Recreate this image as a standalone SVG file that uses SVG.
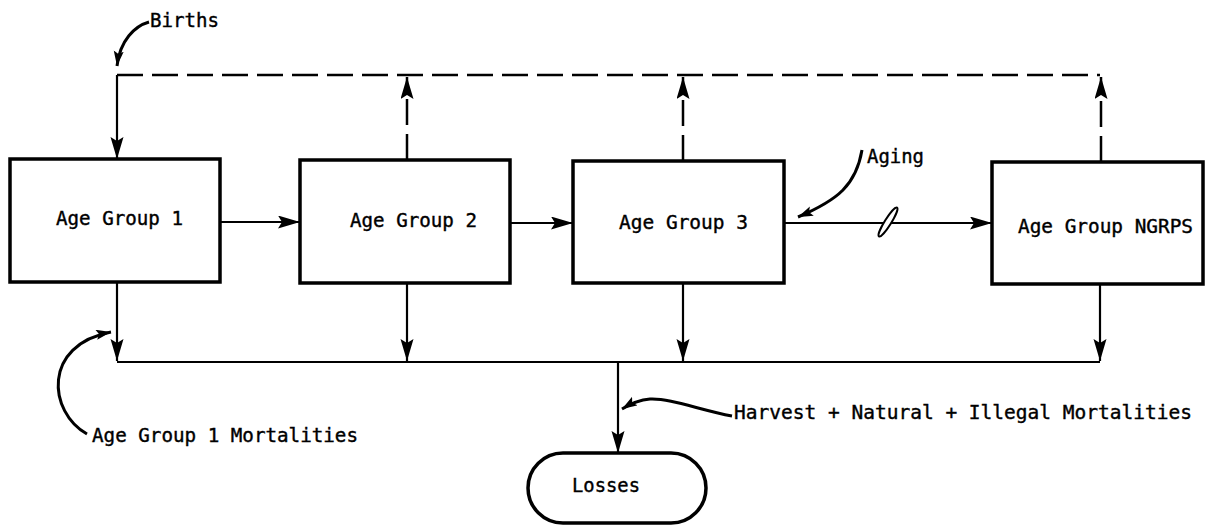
<svg xmlns="http://www.w3.org/2000/svg" width="1206" height="525" viewBox="0 0 1206 525">
<style>
.box{fill:#fff;stroke:#000;stroke-width:3.5}
.ln{fill:none;stroke:#000;stroke-width:2.2}
.dash{fill:none;stroke:#000;stroke-width:2.5;stroke-dasharray:26 9}
.curve{fill:none;stroke:#000;stroke-width:3}
text{font-family:"DejaVu Sans Mono","Liberation Mono",monospace;font-size:19.5px;fill:#000;stroke:#000;stroke-width:0.4}
</style>
<defs>
<marker id="ah" markerUnits="userSpaceOnUse" markerWidth="24" markerHeight="14" refX="22" refY="6.5" orient="auto">
<path d="M0,0 L22,6.5 L0,13 L4,6.5 z" fill="#000"/>
</marker>
<marker id="ahs" markerUnits="userSpaceOnUse" markerWidth="18" markerHeight="12" refX="15" refY="5" orient="auto">
<path d="M0,0 L15,5 L0,10 L3,5 z" fill="#000"/>
</marker>
</defs>
<rect width="1206" height="525" fill="#fff"/>
<g id="connectors">
<path class="dash" d="M117,75 H1100"/>
<path class="ln" d="M117,75 V159" marker-end="url(#ah)"/>
<path class="dash" d="M407,160 V77" marker-end="url(#ah)"/>
<path class="dash" d="M683,161 V77" marker-end="url(#ah)"/>
<path class="dash" d="M1101,162 V77" marker-end="url(#ah)"/>
<path class="ln" d="M220,222 H300" marker-end="url(#ah)"/>
<path class="ln" d="M510,223 H573" marker-end="url(#ah)"/>
<path class="ln" d="M784,223 H992" marker-end="url(#ah)"/>
<ellipse cx="888" cy="222" rx="17" ry="3.2" transform="rotate(-58 888 222)" fill="#fff" stroke="#000" stroke-width="2"/>
<path class="ln" d="M117,282 V361" marker-end="url(#ah)"/>
<path class="ln" d="M407,283 V361" marker-end="url(#ah)"/>
<path class="ln" d="M683,283 V361" marker-end="url(#ah)"/>
<path class="ln" d="M1100,284 V361" marker-end="url(#ah)"/>
<path class="ln" d="M117,362 H1100"/>
<path class="ln" d="M618,362 V453" marker-end="url(#ah)"/>
<path class="curve" d="M149,22 C135,26 120,40 117,66" marker-end="url(#ahs)"/>
<path class="curve" d="M862,150 C856,185 838,200 798,217" marker-end="url(#ahs)"/>
<path class="curve" d="M87,434 C48,412 42,345 111,332" marker-end="url(#ahs)"/>
<path class="curve" d="M732,416 C700,410 670,398 650,399 C638,400 630,404 622,409" marker-end="url(#ahs)"/>
</g>
<g id="births-label"><text x="150" y="27" textLength="69" lengthAdjust="spacingAndGlyphs">Births</text></g>
<g id="age-group-1"><rect class="box" x="10" y="159" width="210" height="123"/><text x="56" y="225" textLength="127" lengthAdjust="spacingAndGlyphs">Age Group 1</text></g>
<g id="age-group-2"><rect class="box" x="300" y="160" width="210" height="123"/><text x="350" y="227" textLength="127" lengthAdjust="spacingAndGlyphs">Age Group 2</text></g>
<g id="age-group-3"><rect class="box" x="573" y="161" width="211" height="122"/><text x="619" y="229" textLength="129" lengthAdjust="spacingAndGlyphs">Age Group 3</text></g>
<g id="age-group-ngrps"><rect class="box" x="992" y="162" width="211" height="122"/><text x="1018" y="233" textLength="175" lengthAdjust="spacingAndGlyphs">Age Group NGRPS</text></g>
<g id="aging-label"><text x="867" y="163" textLength="57" lengthAdjust="spacingAndGlyphs">Aging</text></g>
<g id="mortalities-label"><text x="92" y="442" textLength="266" lengthAdjust="spacingAndGlyphs">Age Group 1 Mortalities</text></g>
<g id="harvest-label"><text x="734" y="419" textLength="458" lengthAdjust="spacingAndGlyphs">Harvest + Natural + Illegal Mortalities</text></g>
<g id="losses"><rect class="box" x="528" y="453" width="178" height="70" rx="35" ry="35"/><text x="572" y="492" textLength="68" lengthAdjust="spacingAndGlyphs">Losses</text></g>
</svg>
